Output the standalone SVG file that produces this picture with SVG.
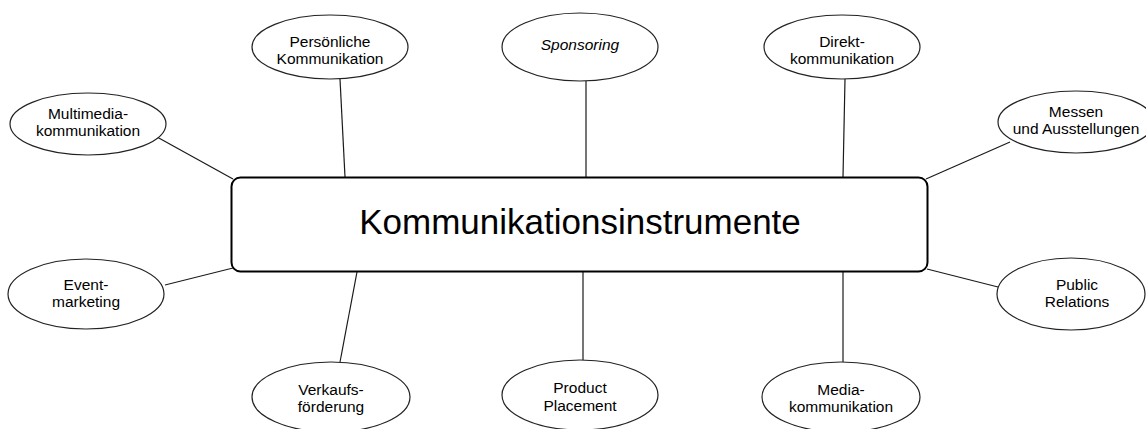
<svg xmlns="http://www.w3.org/2000/svg" width="1146" height="429" viewBox="0 0 1146 429">
  <style>
    .bubble { fill: #ffffff; stroke: #222222; stroke-width: 1.2; }
    .label { font-family: "Liberation Sans", Arial, sans-serif; font-size: 15.5px; fill: #000000; text-anchor: middle; }
    .title { font-family: "Liberation Sans", Arial, sans-serif; font-size: 35px; fill: #000000; text-anchor: middle; }
    .link { stroke: #1a1a1a; stroke-width: 1.2; fill: none; }
  </style>
  <rect width="1146" height="429" fill="#ffffff"/>

  <!-- spokes from the central box to each instrument -->
  <g id="connectors">
    <line class="link" x1="157" y1="137" x2="233" y2="179"/>
    <line class="link" x1="340" y1="79" x2="345" y2="177"/>
    <line class="link" x1="586" y1="81" x2="586" y2="177"/>
    <line class="link" x1="845" y1="79" x2="843" y2="177"/>
    <line class="link" x1="1010" y1="142" x2="926" y2="179"/>
    <line class="link" x1="165" y1="285" x2="233" y2="268"/>
    <line class="link" x1="927" y1="269" x2="998" y2="287"/>
    <line class="link" x1="357" y1="272" x2="340" y2="362"/>
    <line class="link" x1="583" y1="272" x2="583" y2="360"/>
    <line class="link" x1="843" y1="272" x2="843" y2="362"/>
  </g>

  <g id="center">
    <rect x="231.5" y="177.5" width="696" height="94" rx="9" ry="9" fill="#ffffff" stroke="#000000" stroke-width="2"/>
    <text class="title" x="580" y="234">Kommunikationsinstrumente</text>
  </g>

  <g id="multimedia">
    <ellipse class="bubble" cx="88" cy="124" rx="78" ry="31"/>
    <text class="label" x="88" y="119">Multimedia-</text>
    <text class="label" x="88" y="136">kommunikation</text>
  </g>

  <g id="persoenlich">
    <ellipse class="bubble" cx="330" cy="47" rx="78" ry="32"/>
    <text class="label" x="330" y="47">Persönliche</text>
    <text class="label" x="330" y="64">Kommunikation</text>
  </g>

  <g id="sponsoring">
    <ellipse class="bubble" cx="580" cy="47" rx="78" ry="34"/>
    <text class="label" x="580" y="50" font-style="italic">Sponsoring</text>
  </g>

  <g id="direkt">
    <ellipse class="bubble" cx="842" cy="47" rx="78" ry="32"/>
    <text class="label" x="842" y="47">Direkt-</text>
    <text class="label" x="842" y="64">kommunikation</text>
  </g>

  <g id="messen">
    <ellipse class="bubble" cx="1076" cy="122" rx="78" ry="31"/>
    <text class="label" x="1076" y="117">Messen</text>
    <text class="label" x="1076" y="134">und Ausstellungen</text>
  </g>

  <g id="event">
    <ellipse class="bubble" cx="86" cy="294" rx="78" ry="35"/>
    <text class="label" x="86" y="290">Event-</text>
    <text class="label" x="86" y="307">marketing</text>
  </g>

  <g id="pr">
    <ellipse class="bubble" cx="1071" cy="294" rx="74" ry="36"/>
    <text class="label" x="1077" y="290">Public</text>
    <text class="label" x="1077" y="307">Relations</text>
  </g>

  <g id="verkauf">
    <ellipse class="bubble" cx="331" cy="397" rx="79" ry="35"/>
    <text class="label" x="331" y="395">Verkaufs-</text>
    <text class="label" x="331" y="412">förderung</text>
  </g>

  <g id="placement">
    <ellipse class="bubble" cx="580" cy="395" rx="78" ry="35"/>
    <text class="label" x="580" y="393">Product</text>
    <text class="label" x="580" y="411">Placement</text>
  </g>

  <g id="media">
    <ellipse class="bubble" cx="841" cy="397" rx="79" ry="35"/>
    <text class="label" x="841" y="395">Media-</text>
    <text class="label" x="841" y="412">kommunikation</text>
  </g>
</svg>
